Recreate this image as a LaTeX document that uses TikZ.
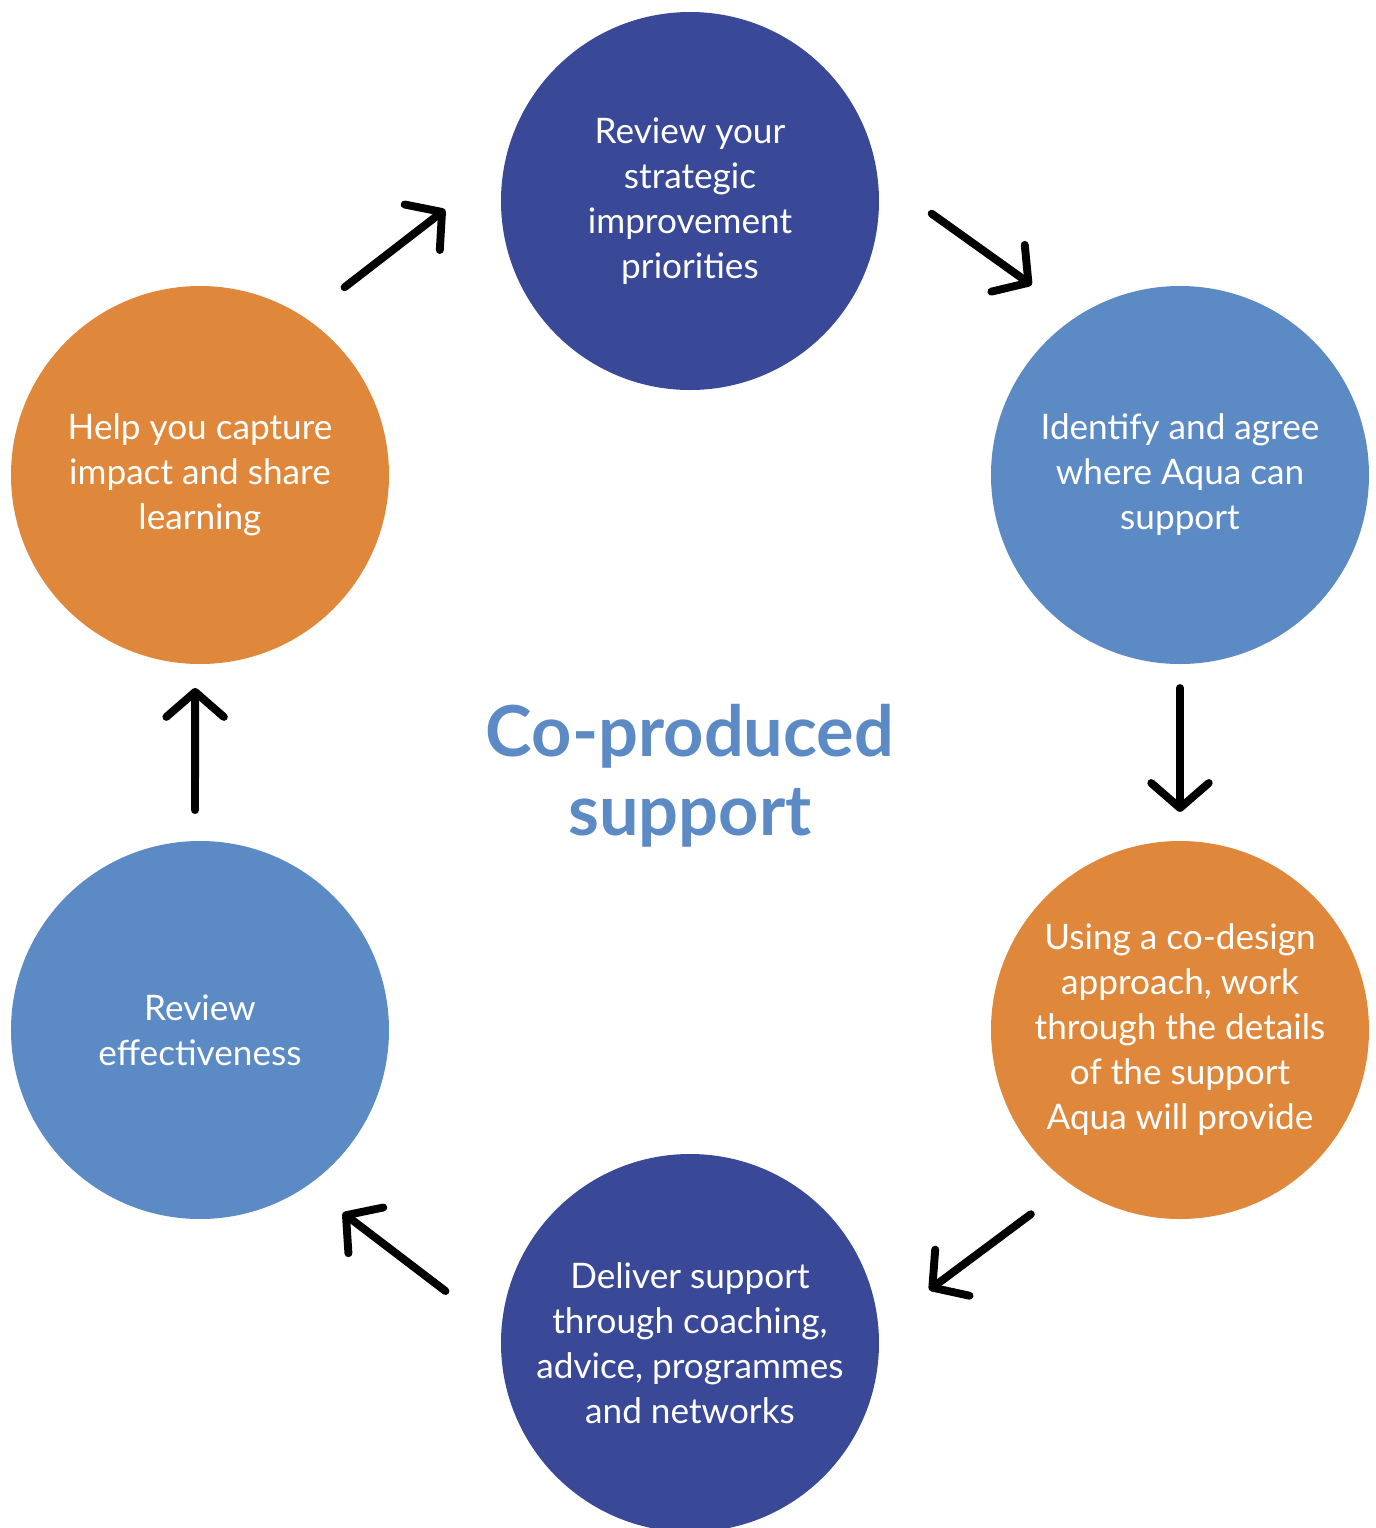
\documentclass[tikz,border=0pt]{standalone}
\usepackage{fontspec}
\setmainfont{Lato}
\usepackage{tikz}
\usetikzlibrary{arrows.meta, calc}
\definecolor{aquadark}{RGB}{57,73,151}
\definecolor{aqualight}{RGB}{91,138,197}
\definecolor{aquaorange}{RGB}{223,135,58}
\tikzstyle{stage} = [circle, minimum size=7.56cm, inner sep=0pt, align=center, text=white, font=\fontsize{20}{25.6}\selectfont]
\tikzstyle{darkstage} = [stage, fill=aquadark]
\tikzstyle{lightstage} = [stage, fill=aqualight]
\tikzstyle{orangestage} = [stage, fill=aquaorange]
\tikzstyle{title} = [align=center, text=aqualight, font=\fontsize{40}{45}\selectfont\bfseries]
\tikzstyle{arrow} = [line width=4.5pt, line cap=round, -{Straight Barb[length=5mm,width=11.5mm,round]}]

\begin{document}
\begin{tikzpicture}[node distance=9.8cm]
\useasboundingbox (-13.8,4.02) rectangle (13.72,-26.54);
\node (review) [darkstage] {Review your\\strategic\\improvement\\priorities};
\node (identify) [lightstage, right of=review, yshift=-5.48cm] {Identify and agree\\where Aqua can\\support};
\node (codesign) [orangestage, below of=identify, yshift=-1.3cm] {Using a co-design\\approach, work\\through the details\\of the support\\Aqua will provide};
\node (deliver) [darkstage, left of=codesign, yshift=-6.26cm] {Deliver support\\through coaching,\\advice, programmes\\and networks};
\node (effective) [lightstage, left of=deliver, yshift=6.26cm] {Review\\effectiveness};
\node (capture) [orangestage, above of=effective, yshift=1.3cm] {Help you capture\\impact and share\\learning};
\node (centre) [title, below of=review, yshift=-1.7cm] {Co-produced\\support};
\draw [arrow] ($(review)+(-3:4.84)$) -- ($(identify)+(128:4.82)$);
\draw [arrow] ($(identify)+(-90:4.26)$) -- ($(codesign)+(90:4.36)$);
\draw [arrow] ($(codesign)+(231:4.74)$) -- ($(deliver)+(12.5:4.9)$);
\draw [arrow] ($(deliver)+(168:5.0)$) -- ($(effective)+(-52:4.64)$);
\draw [arrow] ($(effective)+(91.3:4.4)$) -- ($(capture)+(-91.3:4.26)$);
\draw [arrow] ($(capture)+(52.4:4.74)$) -- ($(review)+(182:4.9)$);
\end{tikzpicture}
\end{document}
